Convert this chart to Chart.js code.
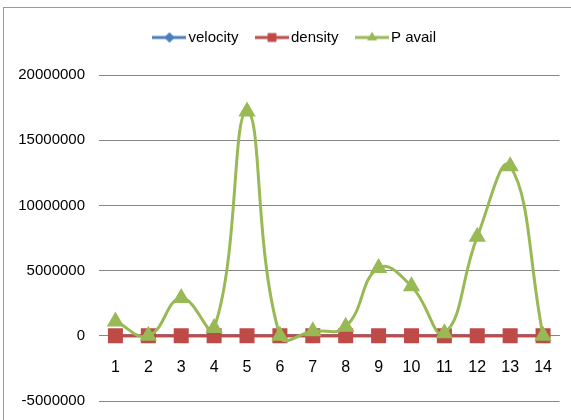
<!DOCTYPE html>
<html>
<head>
<meta charset="utf-8">
<script src="https://cdn.jsdelivr.net/npm/chart.js@4.4.1/dist/chart.umd.min.js"></script>
<style>
  html, body { margin: 0; padding: 0; background: #fff; }
  #wrap { position: relative; width: 571px; height: 420px; overflow: hidden; }
  #marco { position: absolute; left: 3px; top: 7px; width: 700px; height: 600px; border: 1px solid #9a9a9a; }
  #grafico { position: absolute; left: 0; top: 0; }
</style>
</head>
<body>
<div id="wrap">
  <div id="marco"></div>
  <canvas id="grafico" width="571" height="420"></canvas>
</div>
<script>
// Datos
const categorias = ['1', '2', '3', '4', '5', '6', '7', '8', '9', '10', '11', '12', '13', '14'];
const velocidad = [0, 0, 0, 0, 0, 0, 0, 0, 0, 0, 0, 0, 0, 0];
const densidad = [0, 0, 0, 0, 0, 0, 0, 0, 0, 0, 0, 0, 0, 0];
const pDisponible = [1100000, 0, 2900000, 600000, 17200000, 0, 350000, 700000, 5200000, 3800000, 200000, 7600000, 13000000, 0];
const nombresSeries = ['velocity', 'density', 'P avail'];
const ticksY = [-5000000, 0, 5000000, 10000000, 15000000, 20000000];

const fuente = "'Liberation Sans', Arial, sans-serif";

// Muestra de leyenda: linea con marcador en el centro
function crearMuestra(color, estilo, radio) {
  const c = document.createElement('canvas');
  c.width = 34;
  c.height = 14;
  const ctx = c.getContext('2d');
  ctx.strokeStyle = color;
  ctx.lineWidth = 3;
  ctx.beginPath();
  ctx.moveTo(0, 7);
  ctx.lineTo(34, 7);
  ctx.stroke();
  ctx.fillStyle = color;
  Chart.helpers.drawPoint(ctx, { pointStyle: estilo, radius: radio, borderWidth: 0, rotation: 0 }, 17, 7);
  ctx.fill();
  return c;
}

const colores = ['#4a7ebb', '#be4b48', '#98b954'];
const estilos = ['rectRot', 'rect', 'triangle'];
const muestras = [
  crearMuestra(colores[0], estilos[0], 5),
  crearMuestra(colores[1], estilos[1], 6),
  crearMuestra(colores[2], estilos[2], 5.5)
];

// Desplaza la leyenda para centrarla como en el original
const moverLeyenda = {
  id: 'moverLeyenda',
  afterLayout(chart) {
    chart.legend.left += 17;
    chart.legend.right += 17;
  }
};

// Sin relleno extra de las escalas: el area la fija layout.padding
function sinRelleno(escala) {
  escala.paddingLeft = 0;
  escala.paddingRight = 0;
  escala.paddingTop = 0;
  escala.paddingBottom = 0;
}

const ctx = document.getElementById('grafico').getContext('2d');
window.graficoP = new Chart(ctx, {
  type: 'line',
  data: {
    labels: categorias,
    datasets: [{
      label: nombresSeries[0],
      data: velocidad,
      borderColor: colores[0],
      backgroundColor: colores[0],
      pointStyle: estilos[0],
      pointRadius: 5,
      borderWidth: 3,
      tension: 0.4,
      order: 2
    }, {
      label: nombresSeries[1],
      data: densidad,
      borderColor: colores[1],
      backgroundColor: colores[1],
      pointStyle: estilos[1],
      pointRadius: 8.5,
      borderWidth: 3,
      tension: 0.4,
      order: 1
    }, {
      label: nombresSeries[2],
      data: pDisponible,
      borderColor: colores[2],
      backgroundColor: colores[2],
      pointStyle: estilos[2],
      pointRadius: 7,
      borderWidth: 3,
      tension: 0.45,
      order: 0
    }]
  },
  plugins: [moverLeyenda],
  options: {
    responsive: false,
    animation: false,
    devicePixelRatio: 1,
    layout: {
      padding: { left: 0, right: 11, top: 8, bottom: 19 }
    },
    plugins: {
      legend: {
        position: 'top',
        labels: {
          usePointStyle: true,
          pointStyleWidth: 23,
          padding: 22,
          color: '#000',
          font: { family: fuente, size: 15 },
          generateLabels: function (chart) {
            return chart.data.datasets.map(function (ds, i) {
              return {
                text: ds.label,
                pointStyle: muestras[i],
                fillStyle: ds.backgroundColor,
                strokeStyle: ds.borderColor,
                lineWidth: 0,
                hidden: false,
                datasetIndex: i
              };
            });
          }
        }
      },
      title: {
        display: true,
        text: '',
        weight: 500,
        font: { size: 1, lineHeight: 1 },
        padding: { top: 0, bottom: 19 }
      },
      tooltip: { enabled: false }
    },
    scales: {
      x: {
        type: 'category',
        offset: true,
        position: { y: 0 },
        afterFit: sinRelleno,
        grid: { display: false, drawTicks: false },
        border: { display: true, color: '#868686', width: 1 },
        ticks: {
          padding: 22,
          color: '#000',
          font: { family: fuente, size: 16 },
          maxRotation: 0,
          autoSkip: false
        }
      },
      y: {
        min: ticksY[0],
        max: ticksY[ticksY.length - 1],
        afterFit: function (escala) {
          sinRelleno(escala);
          escala.width = 99;
        },
        afterBuildTicks: function (escala) {
          escala.ticks = ticksY.map(function (v) { return { value: v }; });
        },
        grid: { color: '#868686', lineWidth: 1, drawTicks: false },
        border: { display: false },
        ticks: {
          padding: 14,
          color: '#000',
          font: { family: fuente, size: 15 },
          callback: function (valor) { return String(valor); }
        }
      }
    }
  }
});
</script>
</body>
</html>
